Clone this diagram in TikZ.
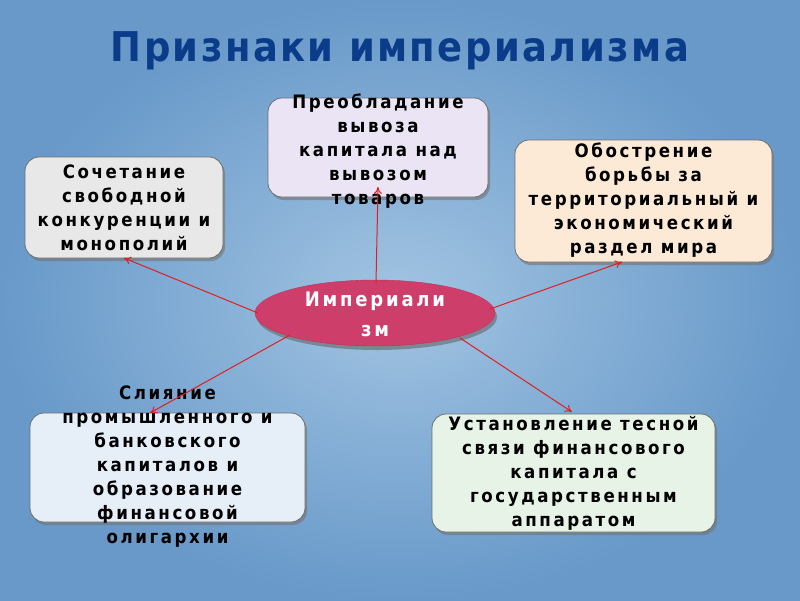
\documentclass[tikz,border=0pt]{standalone}
\usepackage{fontspec}
\setmainfont{DejaVu Sans Condensed}[LetterSpace=14]
\newfontfamily\titlefont{DejaVu Sans Condensed}[LetterSpace=6]
\usetikzlibrary{shapes.geometric,shadows,arrows.meta}
\definecolor{bgin}{RGB}{162,196,226}
\definecolor{bgout}{RGB}{104,153,201}
\definecolor{titleblue}{RGB}{10,60,138}
\definecolor{arrred}{RGB}{226,30,30}
\definecolor{impfill}{RGB}{206,62,106}
\definecolor{boxgray}{RGB}{232,232,232}
\definecolor{boxlav}{RGB}{234,228,244}
\definecolor{boxpeach}{RGB}{253,234,214}
\definecolor{boxblue}{RGB}{230,238,248}
\definecolor{boxgreen}{RGB}{230,243,230}
\tikzset{
  box/.style={draw={rgb,255:red,110;green,110;blue,110}, line width=0.8pt, rounded corners=14pt,
    inner sep=0pt, drop shadow={shadow xshift=2pt, shadow yshift=-3pt, fill=black!55, opacity=0.6}},
  txt/.style={font=\fontsize{18.5}{24}\selectfont\bfseries, align=center, text=black, inner sep=0pt},
  arr/.style={draw=arrred, line width=1pt, -{To[length=7pt,width=8pt]}}
}
\begin{document}
\begin{tikzpicture}[x=1pt,y=-1pt]
\shade[inner color=bgin, outer color=bgout] (0,0) rectangle (800,600);
\useasboundingbox (0,0) rectangle (800,600);
\node[font=\titlefont\fontsize{41}{46}\selectfont\bfseries, text=titleblue] (title) at (400,51) {Признаки империализма};
% boxes
\node[box, fill=boxgray, minimum width=198pt, minimum height=101pt] (b1) at (124,207.5) {};
\node[txt] (t1) at (b1.center) {Сочетание\\свободной\\конкуренции и\\монополий};
\node[box, fill=boxlav, minimum width=220pt, minimum height=99pt] (b2) at (378,147.5) {};
\node[txt] (t2) at (378,151) {Преобладание\\вывоза\\капитала над\\вывозом\\товаров};
\node[box, fill=boxpeach, minimum width=257pt, minimum height=122pt] (b3) at (643.5,201) {};
\node[txt] (t3) at (643.5,200) {Обострение\\борьбы за\\территориальный и\\экономический\\раздел мира};
\node[box, fill=boxblue, minimum width=275pt, minimum height=109pt] (b4) at (167.5,467.5) {};
\node[txt] (t4) at (167.5,467) {Слияние\\промышленного и\\банковского\\капиталов и\\образование\\финансовой\\олигархии};
\node[box, fill=boxgreen, minimum width=283pt, minimum height=118pt] (b5) at (573.5,473) {};
\node[txt] (t5) at (573.5,473) {Установление тесной\\связи финансового\\капитала с\\государственным\\аппаратом};
% ellipse
\node[ellipse, fill=impfill, draw={rgb,255:red,190;green,50;blue,90}, minimum width=240pt, minimum height=66pt, inner sep=0pt,
  drop shadow={shadow xshift=2pt, shadow yshift=-4pt, fill=black!60, opacity=0.6}] (imp) at (375,313) {};
\node[font=\fontsize{20}{30}\selectfont\bfseries, text=white, align=center] (impt) at (375,314) {Империали\\зм};
% arrow ends
\coordinate (e1) at (124,258);
\coordinate (e2) at (378,187);
\coordinate (e3) at (622,262);
\coordinate (e4) at (150,413);
\coordinate (e5) at (572,412);
\coordinate (s1) at (258,313);
\coordinate (s2) at (376,283);
\coordinate (s3) at (490,309);
\coordinate (s4) at (290,335);
\coordinate (s5) at (460,338);
\draw[arr] (s1) -- (e1);
\draw[arr] (s2) -- (e2);
\draw[arr] (s3) -- (e3);
\draw[arr] (s4) -- (e4);
\draw[arr] (s5) -- (e5);
\end{tikzpicture}
\end{document}
